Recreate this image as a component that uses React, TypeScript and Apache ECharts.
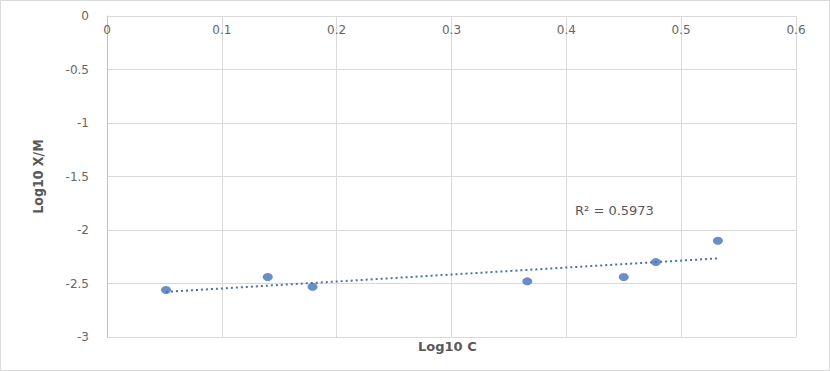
import React, { useEffect, useRef } from "react";
import * as echarts from "echarts";

const logC: number[] = [0.0514, 0.14, 0.179, 0.366, 0.45, 0.478, 0.532];
const logXM: number[] = [-2.56, -2.44, -2.53, -2.48, -2.44, -2.3, -2.1];
const xTicks = { min: 0, max: 0.6, interval: 0.1 };
const yTicks = { min: -3, max: 0, interval: 0.5 };
const rSquaredLabel = "R² = 0.5973";
const xTitle = "Log10 C";
const yTitle = "Log10 X/M";

function regression(xs: number[], ys: number[]) {
  const n = xs.length;
  const mx = xs.reduce((a, b) => a + b, 0) / n;
  const my = ys.reduce((a, b) => a + b, 0) / n;
  let sxy = 0;
  let sxx = 0;
  for (let i = 0; i < n; i++) {
    sxy += (xs[i] - mx) * (ys[i] - my);
    sxx += (xs[i] - mx) * (xs[i] - mx);
  }
  const slope = sxy / sxx;
  return { slope, intercept: my - slope * mx };
}

export default function App() {
  const ref = useRef<HTMLDivElement>(null);
  useEffect(() => {
    document.body.style.margin = "0";
    if (!ref.current) return;
    const chart = echarts.init(ref.current, undefined, { renderer: "svg" });
    const { slope, intercept } = regression(logC, logXM);
    const xMin = Math.min(...logC);
    const xMax = Math.max(...logC);
    const trend = [
      [xMin, intercept + slope * xMin],
      [xMax, intercept + slope * xMax],
    ];
    const font = "'DejaVu Sans', sans-serif";
    const titleFont = "'Liberation Sans Narrow', 'DejaVu Sans Condensed', 'Liberation Sans', sans-serif";
    chart.setOption({
      animation: false,
      backgroundColor: "#ffffff",
      grid: { left: 106, top: 15, width: 689, height: 321, show: false, outerBoundsMode: "none", containLabel: false },
      xAxis: {
        type: "value",
        position: "top",
        min: xTicks.min,
        max: xTicks.max,
        interval: xTicks.interval,
        axisLine: { show: true, onZero: false, lineStyle: { color: "#d9d9d9", width: 1 } },
        axisTick: { show: false },
        axisLabel: {
          inside: true,
          margin: 8,
          color: "#666666",
          fontSize: 12,
          fontFamily: font,
          formatter: (v: number) => String(Math.round(v * 10) / 10),
        },
        splitLine: { show: true, lineStyle: { color: "#d9d9d9", width: 1 } },
      },
      yAxis: {
        type: "value",
        min: yTicks.min,
        max: yTicks.max,
        interval: yTicks.interval,
        axisLine: { show: true, onZero: false, lineStyle: { color: "#bfbfbf", width: 1 } },
        axisTick: { show: false },
        axisLabel: {
          margin: 18,
          color: "#666666",
          fontSize: 12,
          fontFamily: font,
          formatter: (v: number) => String(v),
        },
        splitLine: { show: true, lineStyle: { color: "#d9d9d9", width: 1 } },
        name: yTitle,
        nameLocation: "middle",
        nameGap: 62,
        nameRotate: 90,
        nameTextStyle: {
          color: "#595959",
          fontSize: 14,
          fontWeight: "bold",
          fontFamily: titleFont,
        },
      },
      series: [
        {
          type: "line",
          data: trend,
          symbol: "none",
          lineStyle: { color: "#4a6fb5", width: 2, type: [2, 3] },
          z: 2,
        },
        {
          type: "scatter",
          data: logC.map((x, i) => [x, logXM[i]]),
          symbol: "circle",
          symbolSize: [10, 8],
          itemStyle: { color: "#4472c4" },
          z: 3,
        },
      ],
      graphic: [
        {
          type: "text",
          left: 574,
          top: 203,
          style: {
            text: rSquaredLabel,
            fill: "#595959",
            fontSize: 13,
            fontFamily: font,
          },
        },
        {
          type: "text",
          left: 417,
          top: 339,
          style: {
            text: xTitle,
            fill: "#595959",
            fontSize: 13,
            fontWeight: "bold",
            fontFamily: font,
          },
        },
      ],
    });
    return () => chart.dispose();
  }, []);
  return (
    <div
      ref={ref}
      style={{ width: 830, height: 371, boxSizing: "border-box", border: "1px solid #d9d9d9" }}
    />
  );
}
